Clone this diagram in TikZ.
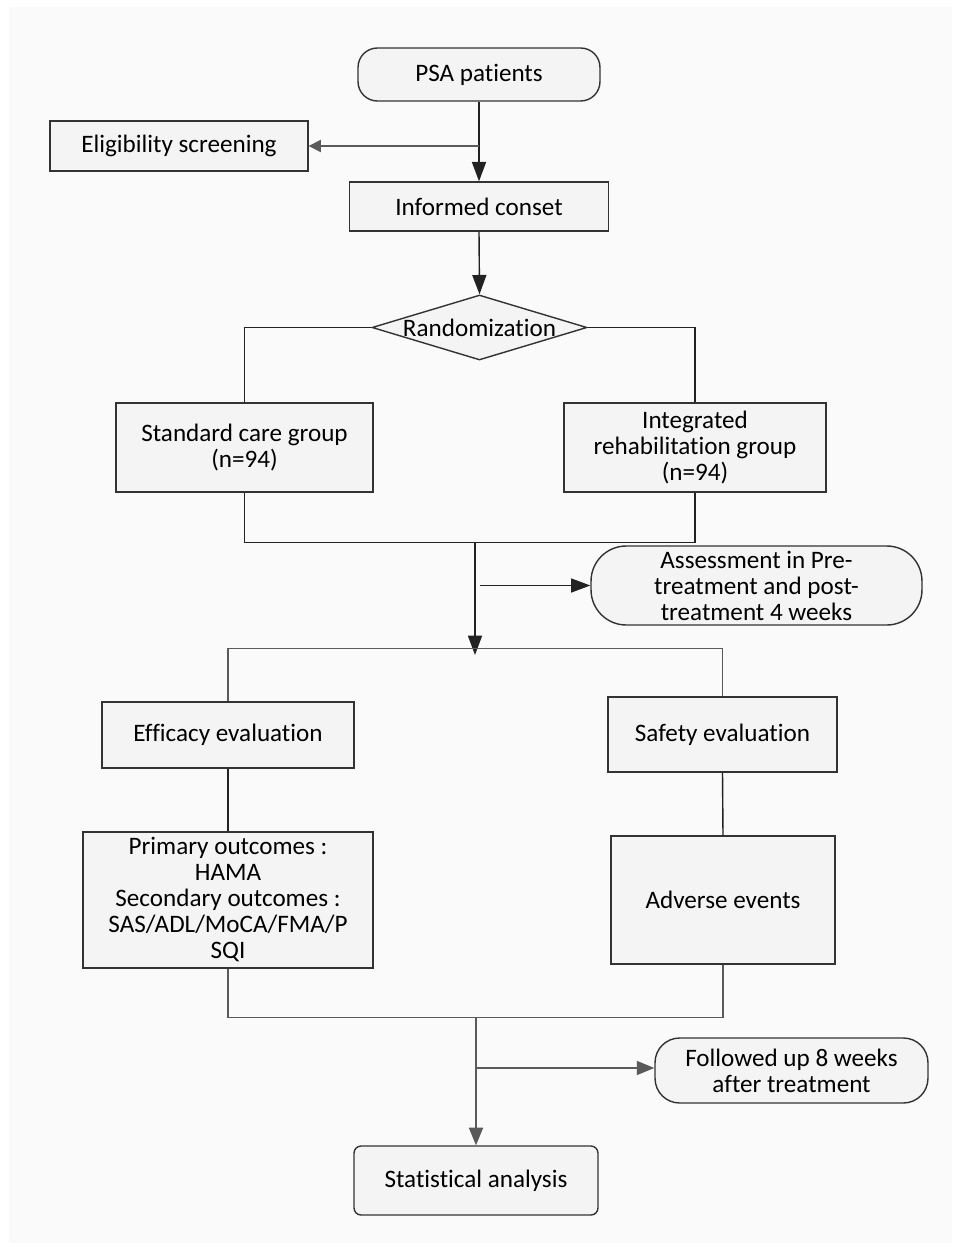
\documentclass[tikz,border=0pt]{standalone}
\usepackage{fontspec}
\setmainfont{Carlito}[Ligatures=NoCommon]
\usetikzlibrary{shapes.geometric,arrows.meta,calc}

\definecolor{bgpanel}{HTML}{FAFAFA}
\definecolor{boxfill}{HTML}{F4F4F4}
\definecolor{boxline}{HTML}{333333}
\definecolor{darkline}{HTML}{222222}
\definecolor{greyline}{HTML}{5A5A5A}

\begin{document}
\begin{tikzpicture}[x=0.02cm,y=-0.02cm]

\tikzset{box/.style={draw=boxline,fill=boxfill,line width=0.8pt,align=center,inner sep=2pt,
    font=\fontsize{14.3}{14.8}\selectfont}}
\tikzset{link/.style={draw=darkline,line width=0.8pt}}
\tikzset{greylink/.style={draw=greyline,line width=0.8pt}}
\tikzset{arr/.style={link,-{Triangle[length=11pt,width=8pt]}}}
\tikzset{greyarr/.style={greylink,-{Triangle[length=10pt,width=8pt,fill=greyline]}}}

\fill[white] (0,0) rectangle (956,1247);
\fill[bgpanel] (9,7) rectangle (952,1243);

\node[box,rounded corners=11pt,minimum width=4.84cm,minimum height=1.06cm] (psa) at (479,74.5) {PSA patients};
\node[box,minimum width=5.16cm,minimum height=1.0cm] (elig) at (179,146) {Eligibility screening};
\node[box,minimum width=5.18cm,minimum height=0.98cm] (consent) at (479,206.5) {Informed conset};
\node[box,diamond,aspect=3.3,inner sep=0pt,minimum width=4.3cm,minimum height=1.3cm,
    label={[font=\fontsize{14.3}{14.8}\selectfont]center:Randomization}] (rand) at (479.5,327.5) {};

\node[box,minimum width=5.14cm,minimum height=1.78cm] (std) at (244.5,447.5) {Standard care group\\(n=94)};
\node[box,minimum width=5.24cm,minimum height=1.78cm] (integ) at (695,447.5) {Integrated\\rehabilitation group\\(n=94)};
\node[box,rounded corners=20pt,minimum width=6.62cm,minimum height=1.58cm] (assess) at (756.5,585.5)
    {Assessment in Pre-\\treatment and post-\\treatment 4 weeks};

\node[box,minimum width=5.04cm,minimum height=1.32cm] (eff) at (228,735) {Efficacy evaluation};
\node[box,minimum width=4.58cm,minimum height=1.5cm] (saf) at (722.5,734.5) {Safety evaluation};
\node[box,minimum width=5.8cm,minimum height=2.72cm] (prim) at (228,900)
    {Primary outcomes :\\HAMA\\Secondary outcomes :\\SAS/ADL/MoCA/FMA/P\\SQI};
\node[box,minimum width=4.48cm,minimum height=2.56cm] (adv) at (723,900) {Adverse events};

\node[box,rounded corners=14pt,minimum width=5.46cm,minimum height=1.3cm] (follow) at (791.5,1070.5)
    {Followed up 8 weeks\\after treatment};
\node[box,rounded corners=4pt,minimum width=4.88cm,minimum height=1.38cm] (stat) at (476,1180.5) {Statistical analysis};

\coordinate (split1) at (475,542);
\coordinate (tip1) at (475,655);
\coordinate (tap1) at (480,585.5);
\coordinate (split2) at (476,1017);
\coordinate (tap2) at (476,1068);

\draw[arr] (psa.south) -- (psa.south |- consent.north);
\draw[greyarr,-{Triangle[length=7pt,width=7pt,fill=greyline]}] (psa.south |- elig.east) -- (elig.east);
\draw[arr] (consent.south) -- (rand.north);

\draw[link] (rand.west) -| (std.north);
\draw[link] (rand.east) -| (integ.north);
\draw[link] (std.south) -- ++(0,50) -| (integ.south);
\draw[arr] (split1) -- (tip1);
\draw[arr] (tap1) -- (tap1 -| assess.west);

\draw[greylink] (eff.north) -- ++(0,-53) -| (saf.north);
\draw[link] (eff.south) -- (prim.north);
\draw[link] (saf.south) -- (adv.north);
\draw[greylink] (prim.south) -- ++(0,49) -| (adv.south);
\draw[greyarr] (split2) -- (stat.north);
\draw[greyarr] (tap2) -- (tap2 -| follow.west);

\end{tikzpicture}
\end{document}
